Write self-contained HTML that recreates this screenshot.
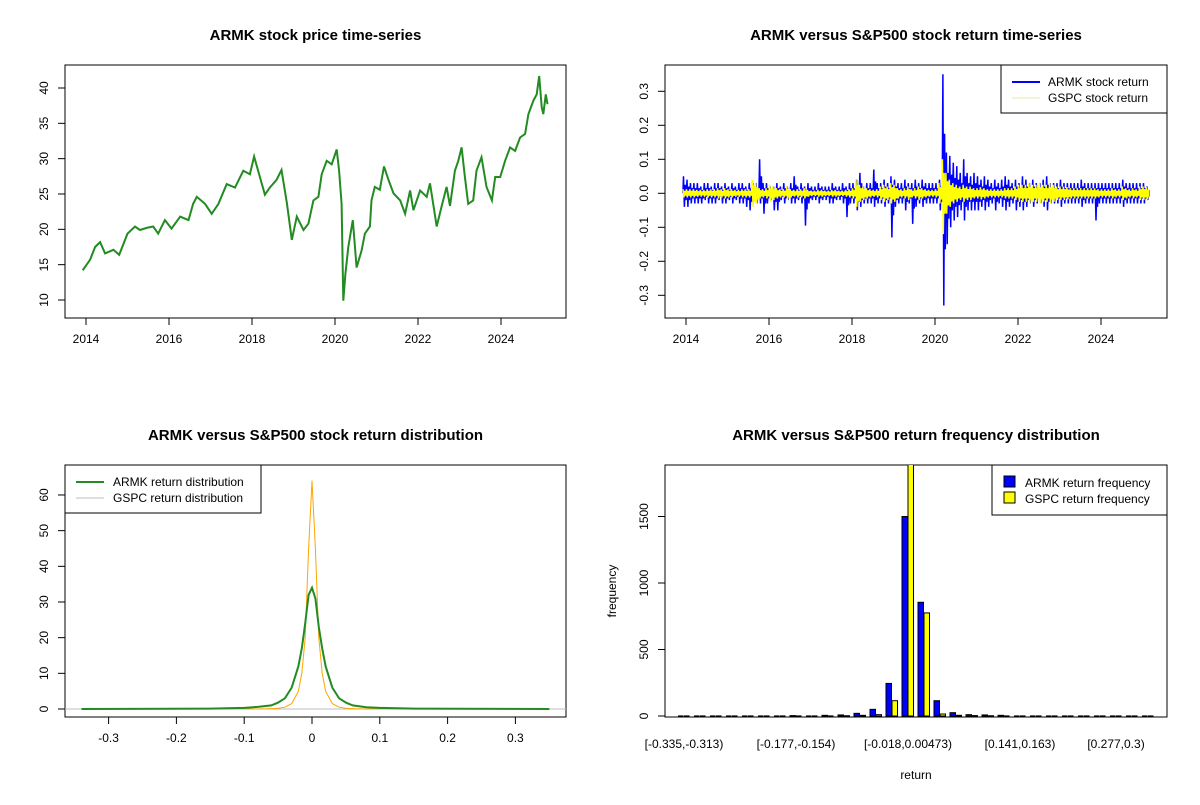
<!DOCTYPE html>
<html><head><meta charset="utf-8"><style>
body{margin:0;background:#fff}
svg{font-family:"Liberation Sans",Arial,sans-serif}
</style></head><body>
<svg id="s" width="1200" height="800" xmlns="http://www.w3.org/2000/svg">
<defs><clipPath id="cbr"><rect x="665" y="465" width="502" height="252"/></clipPath>
<clipPath id="ctr"><rect x="665" y="65" width="502" height="253"/></clipPath></defs>
<g id="tl"></g>
<g id="tr"></g>
<g id="bl"></g>
<g id="br"></g>
</svg>
<script>
// ---- price series (year, price)
const priceYears=[2013.92,2014.1,2014.22,2014.34,2014.46,2014.66,2014.8,2015.0,2015.18,2015.3,2015.46,2015.62,2015.74,2015.9,2016.06,2016.27,2016.47,2016.58,2016.67,2016.87,2017.03,2017.19,2017.39,2017.59,2017.79,2017.95,2018.05,2018.19,2018.31,2018.43,2018.59,2018.71,2018.84,2018.96,2019.08,2019.24,2019.36,2019.48,2019.6,2019.68,2019.8,2019.92,2020.04,2020.1,2020.16,2020.2,2020.25,2020.32,2020.43,2020.52,2020.64,2020.72,2020.84,2020.88,2020.96,2021.08,2021.18,2021.29,2021.41,2021.57,2021.69,2021.81,2021.89,2022.05,2022.21,2022.29,2022.45,2022.57,2022.69,2022.77,2022.89,2022.97,2023.05,2023.13,2023.21,2023.33,2023.41,2023.53,2023.65,2023.78,2023.86,2023.98,2024.1,2024.22,2024.34,2024.46,2024.58,2024.66,2024.78,2024.86,2024.92,2024.98,2025.02,2025.08,2025.12];
const prices=[14.2,15.7,17.5,18.2,16.6,17.1,16.4,19.4,20.4,19.9,20.2,20.4,19.4,21.3,20.1,21.8,21.3,23.6,24.6,23.6,22.2,23.6,26.4,25.9,28.3,27.8,30.3,27.4,24.9,25.9,27,28.4,23.7,18.5,21.8,19.9,20.8,24.1,24.6,27.8,29.7,29.2,31.3,28.3,23.6,9.9,13.7,17.5,21.3,14.6,17,19.4,20.4,24.1,26,25.6,28.9,27,25.1,24.1,22.2,25.5,22.7,25.5,24.6,26.5,20.4,23.3,26,23.3,28.3,29.7,31.6,27.4,23.6,24.1,28.3,30.2,26,24.1,27.4,27.4,29.7,31.6,31.1,33,33.5,36.3,38.2,39.1,41.7,37.3,36.3,39.1,37.7];
const priceYTicks=[10,15,20,25,30,35,40];
const yearTicks=[2014,2016,2018,2020,2022,2024];
// ---- monthly return extremes (month 0 = Dec 2013)
const armkHi=[.05,.04,.03,.03,.03,.02,.03,.03,.02,.03,.03,.02, .03,.02,.03,.02,.03,.03,.02,.03,.03,.03,.10,.03, .03,.02,.02,.03,.02,.03,.02,.03,.05,.02,.03,.02, .03,.02,.02,.03,.02,.02,.02,.03,.02,.02,.03,.02, .03,.03,.04,.06,.02,.03,.03,.07,.03,.03,.04,.03, .05,.04,.03,.03,.04,.03,.03,.04,.03,.04,.03,.03, .03,.03,.04,.35,.12,.11,.09,.08,.06,.10,.06,.05, .06,.05,.04,.05,.04,.03,.04,.03,.04,.05,.04,.03, .04,.03,.05,.04,.03,.04,.03,.03,.04,.05,.03,.03, .03,.04,.03,.03,.03,.03,.03,.04,.03,.03,.03,.03, .03,.03,.03,.03,.03,.03,.03,.04,.03,.03,.03,.03, .03,.03,.02];
const armkLo=[-.04,-.04,-.03,-.03,-.03,-.03,-.02,-.03,-.03,-.03,-.02,-.03, -.03,-.02,-.03,-.02,-.03,-.03,-.04,-.05,-.02,-.03,-.03,-.06, -.03,-.02,-.05,-.05,-.02,-.03,-.02,-.03,-.03,-.02,-.03,-.095, -.03,-.02,-.02,-.03,-.02,-.02,-.03,-.03,-.02,-.02,-.03,-.07, -.03,-.03,-.05,-.04,-.03,-.03,-.03,-.04,-.03,-.03,-.04,-.03, -.13,-.04,-.03,-.03,-.05,-.03,-.09,-.04,-.03,-.04,-.03,-.03, -.03,-.03,-.05,-.33,-.15,-.10,-.08,-.07,-.05,-.08,-.05,-.05, -.05,-.05,-.04,-.05,-.04,-.03,-.05,-.03,-.04,-.05,-.04,-.03, -.05,-.04,-.05,-.04,-.03,-.04,-.03,-.03,-.04,-.05,-.03,-.03, -.03,-.04,-.03,-.03,-.03,-.03,-.03,-.04,-.03,-.03,-.03,-.08, -.03,-.03,-.03,-.03,-.03,-.03,-.03,-.04,-.03,-.03,-.03,-.03, -.03,-.03,-.02];
const gspcAmp=[.012,.012,.012,.012,.01,.01,.01,.012,.012,.012,.015,.012, .015,.012,.012,.01,.01,.012,.012,.012,.04,.03,.015,.012, .015,.025,.02,.015,.012,.012,.02,.012,.01,.012,.012,.015, .01,.008,.008,.01,.01,.008,.008,.01,.01,.008,.008,.01, .012,.015,.04,.025,.02,.015,.012,.01,.012,.02,.025,.02, .03,.025,.015,.012,.015,.02,.012,.015,.02,.015,.012,.01, .01,.012,.03,.1,.06,.04,.03,.025,.02,.025,.02,.02, .015,.015,.018,.015,.012,.012,.012,.012,.012,.015,.015,.015, .02,.025,.025,.025,.03,.025,.025,.03,.025,.025,.03,.025, .02,.02,.02,.018,.015,.015,.015,.015,.015,.015,.015,.015, .012,.012,.012,.012,.015,.012,.012,.02,.015,.012,.015,.012, .02,.02,.018];
const retYTicks=[-0.3,-0.2,-0.1,0,0.1,0.2,0.3];
// ---- density
const densX=[-0.34,-0.15,-0.1,-0.08,-0.06,-0.05,-0.04,-0.03,-0.02,-0.015,-0.01,-0.005,0,0.005,0.01,0.015,0.02,0.03,0.04,0.05,0.06,0.08,0.1,0.15,0.35];
const armkDens=[0,0.1,0.3,0.6,1,1.8,3,6,12,17,24,32,34,31,23,17,12,6,3,1.8,1,0.5,0.3,0.1,0];
const gspcDens=[0,0,0,0,0.1,0.2,0.5,1.5,5,10,20,45,64,45,20,10,5,1.5,0.5,0.2,0.1,0,0,0,0];
const densXTicks=[-0.3,-0.2,-0.1,0,0.1,0.2,0.3];
const densYTicks=[0,10,20,30,40,50,60];
// ---- histogram
const armkFreq=[0,0,0,0,0,0,0,3,0,5,8,20,50,245,1500,855,115,25,10,8,5,0,0,0,0,0,0,0,0,0];
const gspcFreq=[0,0,0,0,0,0,0,0,0,0,2,5,10,115,2000,775,15,5,3,2,0,0,0,0,0,0,0,0,0,0];
const histLabels=["[-0.335,-0.313)","[-0.177,-0.154)","[-0.018,0.00473)","[0.141,0.163)","[0.277,0.3)"];
const histLabelIdx=[0,7,14,21,27];
const histYTicks=[0,500,1000,1500];

const NS="http://www.w3.org/2000/svg";
function mk(p,tag,at,txt){const e=document.createElementNS(NS,tag);for(const k in at)e.setAttribute(k,at[k]);if(txt!==undefined)e.textContent=txt;p.appendChild(e);return e;}
function frame(g,x0,y0,x1,y1,title){
 const r=mk(g,'rect',{x:x0,y:y0,width:x1-x0,height:y1-y0,fill:'none',stroke:'#000','stroke-width':1});
 
 
 const t=mk(g,'text',{x:(x0+x1)/2,y:y0-25,'text-anchor':'middle','font-size':'15','font-weight':'bold'},title);
 
 
}
function xtick(g,x,yb,lab){mk(g,'line',{x1:x,x2:x,y1:yb,y2:yb+7,stroke:'#000'});
 const t=mk(g,'text',{x:x,y:yb+25,'text-anchor':'middle','font-size':'12'},lab);
 
 }
function ytick(g,xl,y,lab){mk(g,'line',{x1:xl-7,x2:xl,y1:y,y2:y,stroke:'#000'});
 const t=mk(g,'text',{x:xl-17,y:y,'text-anchor':'middle','font-size':'12',transform:`rotate(-90 ${xl-17} ${y})`},lab);
 
 }
function poly(g,pts,col,w,name){const p=mk(g,'polyline',{points:pts.map(a=>a[0].toFixed(1)+','+a[1].toFixed(1)).join(' '),fill:'none',stroke:col,'stroke-width':w,'stroke-linejoin':'miter'});
 
 return p;}

// TL
const tl=document.getElementById('tl');
const tx=y=>86+(y-2014)*41.5, ty=p=>300-(p-10)*7.067;
frame(tl,65,65,566,318,'ARMK stock price time-series');
yearTicks.forEach(y=>xtick(tl,tx(y),318,String(y)));
priceYTicks.forEach(v=>ytick(tl,65,ty(v),String(v)));
poly(tl,priceYears.map((y,i)=>[tx(y),ty(prices[i])]),'#228B22',2,'price-line');

// TR
const tr=document.getElementById('tr');
const rx=y=>686+(y-2014)*41.5, ry=r=>193.3-r*340;
frame(tr,665,65,1167,318,'ARMK versus S&P500 stock return time-series');
yearTicks.forEach(y=>xtick(tr,rx(y),318,String(y)));
retYTicks.forEach(v=>ytick(tr,665,ry(v),v.toFixed(1)));
const gr=mk(tr,'g',{'clip-path':'url(#ctr)'});
const ap=[],gp=[];
armkHi.forEach((h,i)=>{const t=2013.92+i/12;ap.push([rx(t+0.05/12),ry(0)],[rx(t+0.25/12),ry(h)],[rx(t+0.5/12),ry(armkLo[i])],[rx(t+0.75/12),ry(h*0.5)],[rx(t+0.95/12),ry(armkLo[i]*0.5)]);});
gspcAmp.forEach((a,i)=>{const t=2013.92+i/12;gp.push([rx(t+0.1/12),ry(a)],[rx(t+0.35/12),ry(-a*(i==75?1.2:1))],[rx(t+0.6/12),ry(a*0.6)],[rx(t+0.85/12),ry(-a*0.6)]);});
poly(gr,ap,'#0000ff',1.5,'armk-return-line');
poly(gr,gp,'#ffff00',1.5,'gspc-return-line');
const lg1=mk(tr,'g',{});
mk(lg1,'rect',{x:1001,y:65,width:166,height:48,fill:'#fff',stroke:'#000'});
mk(lg1,'line',{x1:1012,x2:1040,y1:82,y2:82,stroke:'#0000ff','stroke-width':2});
mk(lg1,'line',{x1:1012,x2:1040,y1:98,y2:98,stroke:'#e8e8b0','stroke-width':1});
mk(lg1,'text',{x:1048,y:86,'font-size':'12'},'ARMK stock return');
mk(lg1,'text',{x:1048,y:102,'font-size':'12'},'GSPC stock return');

// BL
const bl=document.getElementById('bl');
const dx=v=>312+v*678, dy=d=>709-d*3.567;
frame(bl,65,465,566,717,'ARMK versus S&P500 stock return distribution');
densXTicks.forEach(v=>xtick(bl,dx(v),717,String(v)));
densYTicks.forEach(v=>ytick(bl,65,dy(v),String(v)));
const ln=mk(bl,'line',{x1:65,x2:566,y1:dy(0),y2:dy(0),stroke:'#bebebe'});


poly(bl,densX.map((x,i)=>[dx(x),dy(gspcDens[i])]),'#FFA500',1,'gspc-density');
poly(bl,densX.map((x,i)=>[dx(x),dy(armkDens[i])]),'#228B22',2,'armk-density');
const lg2=mk(bl,'g',{});
mk(lg2,'rect',{x:65,y:465,width:196,height:48,fill:'#fff',stroke:'#000'});
mk(lg2,'line',{x1:76,x2:104,y1:482,y2:482,stroke:'#228B22','stroke-width':2});
mk(lg2,'line',{x1:76,x2:104,y1:498,y2:498,stroke:'#bebebe','stroke-width':1});
mk(lg2,'text',{x:113,y:486,'font-size':'12'},'ARMK return distribution');
mk(lg2,'text',{x:113,y:502,'font-size':'12'},'GSPC return distribution');

// BR
const br=document.getElementById('br');
const hx=i=>684+i*16, hy=c=>716-c*0.133;
frame(br,665,465,1167,717,'ARMK versus S&P500 return frequency distribution');
histYTicks.forEach(v=>ytick(br,665,hy(v),String(v)));
histLabelIdx.forEach((k,j)=>{const t=mk(br,'text',{x:hx(k),y:748,'text-anchor':'middle','font-size':'12'},histLabels[j]);
 
 });
const hb=mk(br,'g',{'clip-path':'url(#cbr)'});
function bar(x,c,fill,name){
 if(c<=0){const l=mk(hb,'line',{x1:x,x2:x+5.5,y1:716,y2:716,stroke:'#000','stroke-width':1.2});
  
  return;}
 const b=mk(hb,'rect',{x:x,y:hy(c),width:5.5,height:716-hy(c),fill:fill,stroke:'#000','stroke-width':1});
 
 
}
armkFreq.forEach((c,i)=>{bar(hx(i)-6,c,'#0000ff','bar-armk');bar(hx(i),gspcFreq[i],'#ffff00','bar-gspc');});
const xl=mk(br,'text',{x:916,y:779,'text-anchor':'middle','font-size':'12'},'return');


const yl=mk(br,'text',{x:616,y:591,'text-anchor':'middle','font-size':'12',transform:'rotate(-90 616 591)'},'frequency');


const lg3=mk(br,'g',{});
mk(lg3,'rect',{x:992,y:465,width:175,height:50,fill:'#fff',stroke:'#000'});
mk(lg3,'rect',{x:1004,y:476,width:11,height:11,fill:'#0000ff',stroke:'#000'});
mk(lg3,'rect',{x:1004,y:492,width:11,height:11,fill:'#ffff00',stroke:'#000'});
mk(lg3,'text',{x:1025,y:487,'font-size':'12'},'ARMK return frequency');
mk(lg3,'text',{x:1025,y:503,'font-size':'12'},'GSPC return frequency');
</script>
</body></html>
